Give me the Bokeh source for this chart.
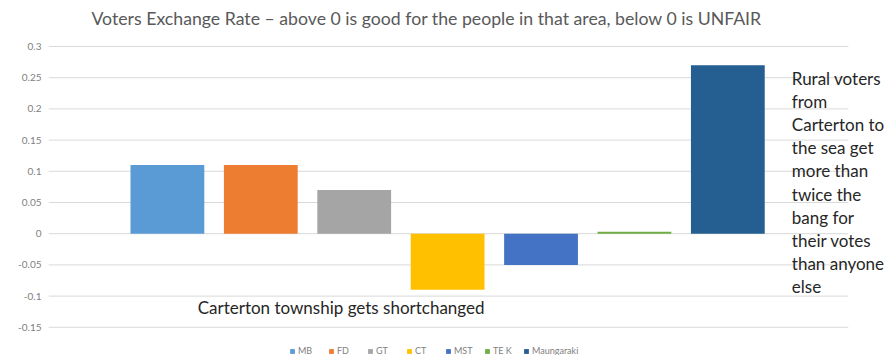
from bokeh.plotting import figure
from bokeh.models import ColumnDataSource, FixedTicker, Label, Legend, LegendItem
from bokeh.embed import file_html
from bokeh.resources import INLINE

series = ["MB", "FD", "GT", "CT", "MST", "TE K", "Maungaraki"]
rates = [0.11, 0.11, 0.07, -0.09, -0.05, 0.003, 0.27]
colors = ["#5B9BD5", "#ED7D31", "#A5A5A5", "#FFC000", "#4472C4", "#70AD47", "#255E91"]
y_ticks = [-0.15, -0.1, -0.05, 0, 0.05, 0.1, 0.15, 0.2, 0.25, 0.3]
y_tick_labels = ["-0.15", "-0.1", "-0.05", "0", "0.05", "0.1", "0.15", "0.2", "0.25", "0.3"]
title_text = "Voters Exchange Rate \u2013 above 0 is good for the people in that area, below 0 is UNFAIR"
note_low = "Carterton township gets shortchanged"
note_high = "Rural voters\nfrom\nCarterton to\nthe sea get\nmore than\ntwice the\nbang for\ntheir votes\nthan anyone\nelse"

FONT = "Lato"
X0, X1, GRID_END = -0.273, 8.72, 8.29
Y0, Y1 = -0.1952, 0.3673
xs = list(range(1, len(series) + 1))
src = ColumnDataSource(dict(x=xs, top=rates, color=colors, name=series))

p = figure(width=893, height=359, output_backend="svg", toolbar_location=None,
           x_range=(X0, X1), y_range=(Y0, Y1),
           min_border_left=48, min_border_right=5, min_border_top=4, min_border_bottom=4)
p.outline_line_color = None
p.background_fill_color = "white"
p.border_fill_color = "white"

# horizontal gridlines (stop short of the right-hand note)
p.segment(x0=[X0] * len(y_ticks), x1=[GRID_END] * len(y_ticks), y0=y_ticks, y1=y_ticks,
          line_color="#D9D9D9", line_width=1)

r = p.vbar(x="x", top="top", bottom=0, width=0.79, fill_color="color", line_color=None, source=src)

p.xaxis.visible = False
p.xgrid.grid_line_color = None
p.ygrid.grid_line_color = None
p.yaxis.ticker = FixedTicker(ticks=y_ticks)
p.yaxis.major_label_overrides = {t: l for t, l in zip(y_ticks, y_tick_labels)}
p.yaxis.axis_line_color = None
p.yaxis.major_tick_line_color = None
p.yaxis.minor_tick_line_color = None
p.yaxis.major_label_text_font = FONT
p.yaxis.major_label_text_font_size = "10px"
p.yaxis.major_label_text_color = "#808080"
p.yaxis.major_label_standoff = 1

# chart title
p.add_layout(Label(x=0.187, y=0.3449, text=title_text, text_align="left", text_baseline="middle",
                   text_font=FONT, text_font_size="17.7px", text_color="#595959"))

p.add_layout(Label(x=4 + 0.395, y=-0.118, text=note_low, text_align="right", text_baseline="middle",
                   text_font=FONT, text_font_size="17px", text_color="#262626"))
p.add_layout(Label(x=7.685, y=0.082, text=note_high, text_align="left", text_baseline="middle",
                   text_font=FONT, text_font_size="17px", text_color="#262626",
                   text_line_height=1.10))

items = [LegendItem(label=series[i], renderers=[r], index=i) for i in range(len(series))]
leg = Legend(items=items, orientation="horizontal", location=(241, -1),
             label_text_font=FONT, label_text_font_size="9px", label_text_color="#808080",
             glyph_width=6, glyph_height=6, label_standoff=3, spacing=10, padding=0, margin=0,
             border_line_color=None, background_fill_alpha=0, label_height=8)
p.add_layout(leg, "center")

open("out.html", "w").write(file_html(p, INLINE))
